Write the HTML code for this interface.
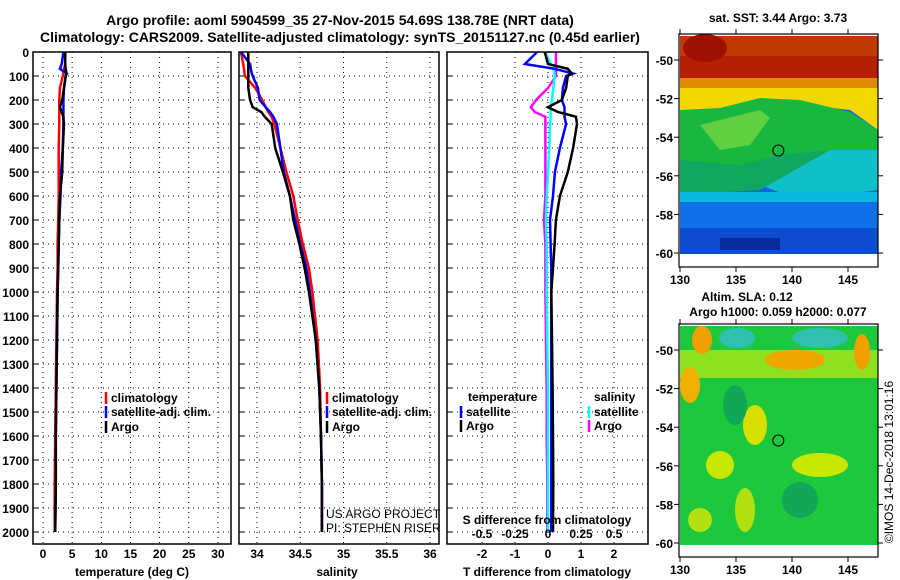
<!DOCTYPE html>
<html><head><meta charset="utf-8"><style>
html,body{margin:0;padding:0;background:#fff;}
svg{display:block;font-family:"Liberation Sans",sans-serif;font-weight:bold;}
</style></head><body>
<svg id="c" width="900" height="580" viewBox="0 0 900 580" xmlns="http://www.w3.org/2000/svg">
<text x="340" y="25" font-size="14" text-anchor="middle">Argo profile: aoml 5904599_35 27-Nov-2015 54.69S 138.78E (NRT data)</text>
<text x="340" y="42" font-size="14" text-anchor="middle">Climatology: CARS2009. Satellite-adjusted climatology: synTS_20151127.nc (0.45d earlier)</text>
<g id="maps"></g>
<g id="plots"></g>
</svg>
<script>
// depth levels (dbar)
const depths = [0,50,70,90,100,150,200,230,250,270,300,400,500,600,700,800,900,1000,1200,1400,1600,1800,2000];
// temperature (deg C)
const tempClim = [3.8,3.8,3.6,3.5,3.4,2.9,2.8,2.8,2.8,2.8,2.8,2.7,2.7,2.7,2.6,2.5,2.5,2.4,2.3,2.2,2.1,2.0,2.0];
const tempSat  = [3.5,3.2,2.9,4.1,3.9,3.6,3.5,3.5,3.5,3.5,3.5,3.4,3.1,3.0,2.8,2.7,2.6,2.5,2.4,2.3,2.2,2.2,2.1];
const tempArgo = [3.8,3.8,3.9,4.0,3.9,3.6,3.3,2.9,3.2,3.5,3.6,3.4,3.3,2.9,2.8,2.7,2.6,2.5,2.4,2.3,2.2,2.2,2.1];
// salinity (PSU)
const salClim = [33.815,33.84,33.85,33.855,33.86,33.98,34.06,34.10,34.13,34.17,34.20,34.27,34.34,34.42,34.47,34.53,34.60,34.64,34.70,34.73,34.74,34.75,34.75];
const salSat  = [33.815,33.92,33.93,33.94,33.95,34.01,34.03,34.10,34.15,34.19,34.23,34.27,34.31,34.38,34.44,34.50,34.57,34.61,34.68,34.72,34.74,34.75,34.75];
const salArgo = [33.90,33.90,33.90,33.90,33.90,33.90,33.92,33.95,34.05,34.09,34.17,34.21,34.30,34.38,34.42,34.49,34.55,34.60,34.68,34.72,34.74,34.75,34.75];
// differences from climatology
const tdiffSat  = [-0.33,-0.7,0.2,0.76,0.55,0.45,0.42,0.5,0.5,0.5,0.55,0.36,0.21,0.15,0.06,0.08,0.1,0.1,0.1,0.1,0.1,0.1,0.1];
const tdiffArgo = [-0.1,0.0,0.6,0.72,0.6,0.55,0.42,0.0,0.3,0.85,0.88,0.76,0.6,0.36,0.24,0.2,0.15,0.1,0.12,0.14,0.15,0.16,0.15];
const sdiffSat  = [-0.02,0.02,0.04,0.05,0.05,0.04,0.03,0.02,0.02,0.02,0.015,0.01,0.0,-0.01,-0.015,-0.01,-0.01,-0.01,-0.005,0.0,0.0,0.0,0.0];
const sdiffArgo = [0.06,0.06,0.06,0.06,0.06,0.0,-0.09,-0.13,-0.1,-0.02,-0.02,-0.02,-0.02,-0.02,-0.03,-0.02,-0.02,-0.02,-0.015,-0.01,-0.01,-0.005,-0.005];
// ticks
const depthTicks = [0,100,200,300,400,500,600,700,800,900,1000,1100,1200,1300,1400,1500,1600,1700,1800,1900,2000];
const tempTicks = [0,5,10,15,20,25,30];
const salTicks = [34,34.5,35,35.5,36];
const salTickLabels = ["34","34.5","35","35.5","36"];
const tdTicks = [-2,-1,0,1,2];
const sdTicks = [-0.5,-0.25,0,0.25,0.5];
const sdTickLabels = ["-0.5","-0.25","0","0.25","0.5"];
const lonTicks = [130,135,140,145];
const latTicks = [-50,-52,-54,-56,-58,-60];
const argoLon = 138.78, argoLat = -54.69;

const NS="http://www.w3.org/2000/svg";
const svg=document.getElementById('c');
const plots=document.getElementById('plots');
const maps=document.getElementById('maps');
function mk(tag,attrs,parent){const e=document.createElementNS(NS,tag);for(const k in attrs)e.setAttribute(k,attrs[k]);(parent||svg).appendChild(e);return e;}
const yD = d => 52 + d*0.24;
const xT = t => 43 + t*5.83;
const xS = s => 257 + (s-34)*86.5;
const xTd = t => 548 + t*33;
const xSd = s => 548 + s*132;

function frame(x0,x1,name){
  const g=mk('g',{},plots);
  
  
  for(const d of depthTicks){
    const l=mk('line',{x1:x0,x2:x1,y1:yD(d),y2:yD(d),stroke:'#000','stroke-width':1,'stroke-dasharray':'1 4'},g);
    
    
    const t=mk('line',{x1:x0,x2:x0+5,y1:yD(d),y2:yD(d),stroke:'#000'},g);
    
    
  }
  return g;
}
function vgrid(g,xs){for(const x of xs){const l=mk('line',{x1:x,x2:x,y1:52,y2:544,stroke:'#000','stroke-dasharray':'1 4'},g);
  
  }}
function border(g,x0,x1){const r=mk('rect',{x:x0,y:52,width:x1-x0,height:492,fill:'none',stroke:'#000','stroke-width':1.5},g);
  
  }
function line(g,xs,fx,col,name){
  const pts=xs.map((v,i)=>fx(v).toFixed(1)+','+yD(depths[i]).toFixed(1)).join(' ');
  const p=mk('polyline',{points:pts,fill:'none',stroke:col,'stroke-width':2.5},g);
  
  
}
function txt(g,x,y,s,size,anchor,name){const t=mk('text',{x:x,y:y,'font-size':size,'text-anchor':anchor||'start'},g);t.textContent=s;
  
  return t;}
function legendEntry(g,x,y,col,label){
  const l=mk('line',{x1:x,x2:x,y1:y-10,y2:y+2,stroke:col,'stroke-width':2.5},g);
  
  
  txt(g,x+5,y,label,12,'start','legend-entry');
}

// Panel 1 temperature
const g1=frame(33,231,'temperature-panel');
vgrid(g1,tempTicks.map(xT));
line(g1,tempClim,xT,'#f00','climatology-temp-line');
line(g1,tempSat,xT,'#00f','satellite-temp-line');
line(g1,tempArgo,xT,'#000','argo-temp-line');
border(g1,33,231);
depthTicks.forEach(d=>txt(g1,29,yD(d)+5,String(d),12,'end','y-tick-label'));
tempTicks.forEach(t=>txt(g1,xT(t),558,String(t),12,'middle','x-tick-label'));
txt(g1,132,576,'temperature (deg C)',12,'middle','x-axis-title');
legendEntry(g1,106,402,'#f00','climatology');
legendEntry(g1,106,416,'#00f','satellite-adj. clim.');
legendEntry(g1,106,431,'#000','Argo');

// Panel 2 salinity
const g2=frame(239,439,'salinity-panel');
vgrid(g2,salTicks.map(xS));
line(g2,salClim,xS,'#f00','climatology-sal-line');
line(g2,salSat,xS,'#00f','satellite-sal-line');
line(g2,salArgo,xS,'#000','argo-sal-line');
border(g2,239,439);
salTicks.forEach((s,i)=>txt(g2,xS(s),558,salTickLabels[i],12,'middle','x-tick-label'));
txt(g2,337,576,'salinity',12,'middle','x-axis-title');
legendEntry(g2,327,402,'#f00','climatology');
legendEntry(g2,327,416,'#00f','satellite-adj. clim.');
legendEntry(g2,327,431,'#000','Argo');
txt(g2,326,518,'US ARGO PROJECT',12,'start','project-credit').setAttribute('font-weight','normal');
txt(g2,326,532,'PI: STEPHEN RISER',12,'start','pi-credit').setAttribute('font-weight','normal');

// Panel 3 differences
const g3=frame(447,648,'difference-panel');
vgrid(g3,tdTicks.map(xTd));
line(g3,sdiffArgo,xSd,'#f0f','argo-sal-diff-line');
line(g3,sdiffSat,xSd,'#0ff','satellite-sal-diff-line');
line(g3,tdiffSat,xTd,'#00f','satellite-temp-diff-line');
line(g3,tdiffArgo,xTd,'#000','argo-temp-diff-line');
border(g3,447,648);
tdTicks.forEach(t=>txt(g3,xTd(t),558,String(t),12,'middle','x-tick-label'));
txt(g3,547,576,'T difference from climatology',12,'middle','x-axis-title');
txt(g3,547,524,'S difference from climatology',12,'middle','s-axis-title');
sdTicks.forEach((s,i)=>txt(g3,xSd(s),538,sdTickLabels[i],12,'middle','s-tick-label'));
txt(g3,468,401,'temperature',12,'start','legend-title-temperature');
legendEntry(g3,461,416,'#00f','satellite');
legendEntry(g3,461,430,'#000','Argo');
txt(g3,594,401,'salinity',12,'start','legend-title-salinity');
legendEntry(g3,589,416,'#0ff','satellite');
legendEntry(g3,589,430,'#f0f','Argo');

// Maps
const xL = lon => 680 + (lon-130)*11.2;
function mapAxes(g,top,lat50){
  const yL = lat => lat50 + (-50-lat)*19.3;
  const r=mk('rect',{x:679,y:top,width:199,height:233,fill:'none',stroke:'#000','stroke-width':1.2},g);
  
  
  latTicks.forEach(la=>{
    const y=yL(la);
    mk('line',{x1:674,x2:679,y1:y,y2:y,stroke:'#000'},g);
    mk('line',{x1:878,x2:883,y1:y,y2:y,stroke:'#000'},g);
    txt(g,673,y+5,String(la),12,'end','map-lat-label');
  });
  lonTicks.forEach(lo=>{
    const x=xL(lo);
    mk('line',{x1:x,x2:x,y1:top+233,y2:top+238,stroke:'#000'},g);
    mk('line',{x1:x,x2:x,y1:top-5,y2:top,stroke:'#000'},g);
    txt(g,x,top+250,String(lo),12,'middle','map-lon-label');
  });
  const c=mk('circle',{cx:xL(argoLon),cy:yL(argoLat),r:5.5,fill:'none',stroke:'#000','stroke-width':1},g);
  
  
}
const m1=mk('g',{},maps);


m1.innerHTML=`
<rect x="680" y="36" width="198" height="218" fill="#1466e0"/>
<rect x="680" y="36" width="198" height="60" fill="#b42000"/>
<rect x="680" y="36" width="198" height="20" fill="#c03a00"/>
<ellipse cx="705" cy="48" rx="22" ry="14" fill="#a01000"/>
<rect x="680" y="78" width="198" height="16" fill="#e08800"/>
<path d="M680 88 H878 V130 L850 110 L760 100 L720 110 L680 118Z" fill="#f0d800"/>
<path d="M680 110 L720 108 L760 98 L800 100 L850 112 L878 130 V155 L830 150 L780 170 L740 190 L680 195Z" fill="#18b840"/>
<path d="M700 125 L760 110 L770 118 L750 145 L720 150 Z" fill="#60d040"/>
<path d="M830 150 L878 150 V190 L800 200 L760 185Z" fill="#10c0c8"/>
<path d="M680 160 L740 165 L780 155 L830 150 L760 190 L680 195Z" fill="#10a860"/>
<rect x="680" y="192" width="198" height="10" fill="#08b8e0"/>
<rect x="680" y="202" width="198" height="28" fill="#1070e8"/>
<rect x="680" y="228" width="198" height="26" fill="#0c4cd0"/>
<rect x="720" y="238" width="60" height="12" fill="#082c9c"/>
`;
mapAxes(m1,34,60);
txt(m1,778,22,'sat. SST: 3.44 Argo: 3.73',12,'middle','sst-map-title');

const m2=mk('g',{},maps);


m2.innerHTML=`
<rect x="680" y="326" width="198" height="219" fill="#1ec83c"/>
<rect x="680" y="350" width="198" height="28" fill="#8ee020"/>
<ellipse cx="737" cy="338" rx="18" ry="10" fill="#30c0b0"/>
<ellipse cx="820" cy="338" rx="28" ry="10" fill="#30c0b0"/>
<ellipse cx="702" cy="340" rx="10" ry="14" fill="#f0a000"/>
<ellipse cx="690" cy="385" rx="10" ry="18" fill="#f0b000"/>
<ellipse cx="795" cy="360" rx="30" ry="10" fill="#f0a800"/>
<ellipse cx="862" cy="352" rx="8" ry="18" fill="#f0a000"/>
<ellipse cx="755" cy="425" rx="12" ry="20" fill="#d8e000"/>
<ellipse cx="720" cy="465" rx="14" ry="14" fill="#c8e800"/>
<ellipse cx="820" cy="465" rx="28" ry="12" fill="#c8e800"/>
<ellipse cx="745" cy="510" rx="10" ry="22" fill="#b0e010"/>
<ellipse cx="700" cy="520" rx="12" ry="12" fill="#b0e010"/>
<ellipse cx="735" cy="405" rx="12" ry="20" fill="#10a858"/>
<ellipse cx="800" cy="500" rx="18" ry="18" fill="#10a858"/>
`;
mapAxes(m2,324,350);
txt(m2,747,301,'Altim. SLA: 0.12',12,'middle','sla-map-title');
txt(m2,778,316,'Argo h1000: 0.059 h2000: 0.077',12,'middle','sla-map-subtitle');
const cr=txt(maps,0,0,'©IMOS 14-Dec-2018 13:01:16',12,'middle','copyright-stamp');
cr.setAttribute('font-weight','normal');
cr.setAttribute('transform','translate(893,462) rotate(-90)');
</script>
</body></html>
